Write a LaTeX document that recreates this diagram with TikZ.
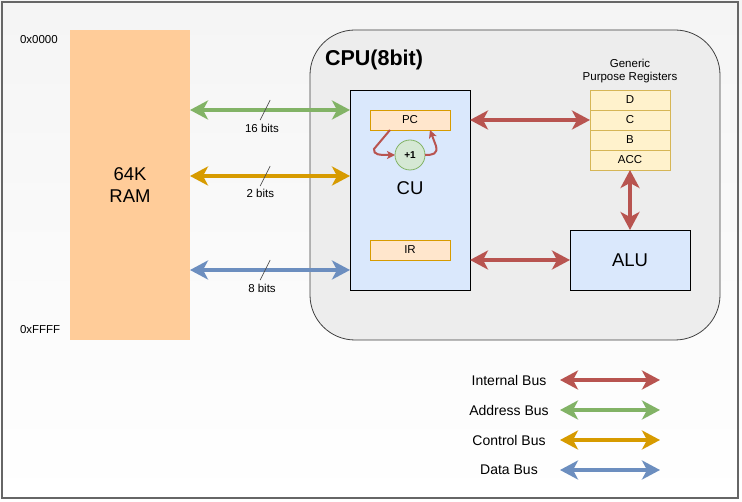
\documentclass[tikz,border=0pt]{standalone}
\usepackage{fontspec}
\setmainfont{Liberation Sans}
\usepackage{xcolor}
\usetikzlibrary{positioning,calc,arrows.meta}

\definecolor{ramfill}{HTML}{FFCC99}
\definecolor{cufill}{HTML}{DAE8FC}
\definecolor{pcfill}{HTML}{FFE6CC}
\definecolor{pcline}{HTML}{D79B00}
\definecolor{regfill}{HTML}{FFF2CC}
\definecolor{regline}{HTML}{D6B656}
\definecolor{incfill}{HTML}{D5E8D4}
\definecolor{incline}{HTML}{82B366}
\definecolor{intbus}{HTML}{B85450}
\definecolor{addrbus}{HTML}{82B366}
\definecolor{ctrlbus}{HTML}{D79B00}
\definecolor{databus}{HTML}{6C8EBF}

\begin{document}
\begin{tikzpicture}[x=1pt, y=-1pt,
        every node/.style={inner sep=0pt, outer sep=0pt},
        unit/.style={rectangle, draw=black, fill=cufill, line width=0.8pt, font=\fontsize{18.5}{22}\selectfont},
        reg/.style={rectangle, draw=regline, fill=regfill, line width=0.8pt, minimum width=80pt, minimum height=20pt, font=\fontsize{11.5}{13}\selectfont},
        inreg/.style={reg, draw=pcline, fill=pcfill},
        small/.style={text=black, font=\fontsize{11.5}{13}\selectfont},
        bus/.style={line width=4pt, {Stealth[length=18pt,width=19pt,inset=5pt]}-{Stealth[length=18pt,width=19pt,inset=5pt]}},
        loop/.style={draw=intbus, line width=2pt, -{Stealth[length=8pt,width=8pt,inset=2pt]}},
        slash/.style={draw=black!70, line width=0.6pt}]

    \useasboundingbox (0,0) rectangle (742,502);
    \shade[top color=black!4, bottom color=white] (0,0) rectangle (742,502);
    \draw[black!60, line width=1.5pt] (2,2) rectangle (738,498);

    % memory
    \node[fill=ramfill, minimum width=120pt, minimum height=310pt, align=center,
          font=\fontsize{18.5}{22}\selectfont] (ram) at (130,185) {64K\\RAM};
    \node[small, anchor=west] (top) at (20,40) {0x0000};
    \node[small, anchor=west] (bot) at (20,330) {0xFFFF};

    % cpu
    \node[draw=black!75, fill=black!7, rounded corners=45pt, line width=0.8pt,
          minimum width=410pt, minimum height=310pt] (cpu) at (515,185) {};
    \node[anchor=west, font=\fontsize{21.5}{24}\selectfont\bfseries] (title) at (325,60) {CPU(8bit)};

    \node[unit, minimum width=120pt, minimum height=200pt] (cu) at (410,190) {};
    \node[font=\fontsize{18.5}{22}\selectfont] (culabel) at (410,188) {CU};
    \node[inreg] (pc) at (410,120) {PC};
    \node[inreg] (ir) at (410,250) {IR};
    \node[circle, draw=incline, fill=incfill, minimum size=30pt, line width=0.8pt,
          font=\fontsize{10}{12}\selectfont\bfseries] (inc) at (410,155) {+1};

    \node[reg] (regD) at (630,100) {D};
    \node[reg, below=0pt of regD] (regC) {C};
    \node[reg, below=0pt of regC] (regB) {B};
    \node[reg, below=0pt of regB] (regA) {ACC};
    \node[small, align=center, above=7pt of regD] (reglabel) {Generic\\Purpose Registers};

    \node[unit, minimum width=120pt, minimum height=60pt] (alu) at (630,260) {ALU};

    % pc increment loop
    \draw[loop] ([xshift=-20pt]pc.south) -- ++(-16,19) .. controls (373,155) and (380,155) .. (inc.west);
    \draw[loop] (inc.east) .. controls (433,155) and (438,154) .. (436,146) -- ([xshift=20pt]pc.south);

    % internal bus
    \draw[bus, intbus] (cu.east |- regC.west) -- (regC.west);
    \draw[bus, intbus] (cu.east |- alu.west) -- (alu.west);
    \draw[bus, intbus] (regA.south) -- (alu.north);

    % system buses
    \draw[bus, addrbus] ([yshift=-80pt]ram.north east) -- coordinate[pos=.47] (s1)
        node[small, pos=.45, below=14pt] {16 bits} ([yshift=-20pt]cu.north west);
    \draw[bus, ctrlbus] ([yshift=-146pt]ram.north east) -- coordinate[pos=.47] (s2)
        node[small, pos=.44, below=13pt] {2 bits} ([yshift=-86pt]cu.north west);
    \draw[bus, databus] ([yshift=-240pt]ram.north east) -- coordinate[pos=.47] (s3)
        node[small, pos=.45, below=14pt] {8 bits} ([yshift=-180pt]cu.north west);
    \draw[slash] ($(s1)+(5,-10)$) -- ($(s1)+(-5,10)$);
    \draw[slash] ($(s2)+(5,-10)$) -- ($(s2)+(-5,10)$);
    \draw[slash] ($(s3)+(5,-10)$) -- ($(s3)+(-5,10)$);

    % legend
    \foreach \y/\txt/\col [count=\i] in {380/Internal Bus/intbus, 410/Address Bus/addrbus,
                                        440/Control Bus/ctrlbus, 470/Data Bus/databus} {
        \node[font=\fontsize{14}{16}\selectfont] (key\i) at (509,\y) {\txt};
        \coordinate (ks\i) at (560,\y);
        \coordinate (ke\i) at (660,\y);
        \draw[bus, \col] (ks\i) -- (ke\i);
    }
\end{tikzpicture}
\end{document}
